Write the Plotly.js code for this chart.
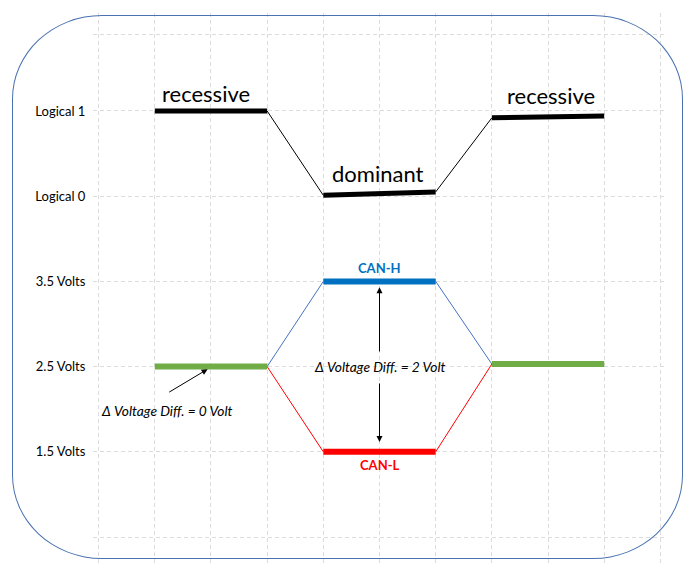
<!DOCTYPE html>
<html>
<head>
<meta charset="utf-8">
<script src="https://cdn.plot.ly/plotly-3.0.1.min.js"></script>
<style>
  html, body { margin: 0; padding: 0; background: #fff; }
  #wrap { position: relative; width: 691px; height: 571px; }
  #chart { width: 691px; height: 571px; }
  #frame { position: absolute; left: 12px; top: 15px; width: 671px; height: 544px;
           border: 1.2px solid #4A72B0; border-radius: 90px / 84px; pointer-events: none; box-sizing: border-box; }
</style>
</head>
<body>
<div id="wrap">
  <div id="chart"></div>
  <div id="frame"></div>
</div>
<script>
// Y-axis tick positions and labels
const yTickVals = [0, 1, 2, 3, 4, 5, 5.9];
const yTickText = ['', '1.5 Volts', '2.5 Volts', '3.5 Volts', 'Logical 0', 'Logical 1', ''];
const xTickVals = [0, 1, 2, 3, 4, 5, 6, 7, 8, 9, 10];

// Logical level (black)
const logicX = [1, 3, 4, 6, 7, 9];
const logicY = [5, 5, 4.01, 4.05, 4.92, 4.94];
// CAN-H (blue)
const canHX = [1, 3, 4, 6, 7, 9];
const canHY = [2, 2, 3, 3, 2.03, 2.03];
// CAN-L (red)
const canLX = [1, 3, 4, 6, 7, 9];
const canLY = [2, 2, 1, 1, 2.03, 2.03];

function seg(xs, ys, i) { return {x: [xs[i], xs[i+1]], y: [ys[i], ys[i+1]]}; }

const traces = [];
function add(s, color, width) {
  traces.push({x: s.x, y: s.y, mode: 'lines', line: {color: color, width: width}, hoverinfo: 'skip', showlegend: false});
}
// thin transitions
add(seg(logicX, logicY, 1), '#000000', 1);
add(seg(logicX, logicY, 3), '#000000', 1);
add(seg(canHX, canHY, 1), '#4472C4', 1);
add(seg(canHX, canHY, 3), '#4472C4', 1);
add(seg(canLX, canLY, 1), '#FF0000', 1);
add(seg(canLX, canLY, 3), '#FF0000', 1);
// thick levels
add(seg(logicX, logicY, 0), '#000000', 5);
add(seg(logicX, logicY, 2), '#000000', 5);
add(seg(logicX, logicY, 4), '#000000', 5);
add(seg(canLX, canLY, 2), '#FF0000', 6);
add(seg(canHX, canHY, 2), '#0070C0', 6);
add(seg(canHX, canHY, 0), '#70AD47', 6);
add(seg(canHX, canHY, 4), '#70AD47', 6);

const F = 'Lato, "Open Sans", sans-serif';
const annotations = [
  {x: 1.92, y: 5.2, text: 'recessive', showarrow: false, font: {family: F, size: 22, color: '#000'}},
  {x: 8.05, y: 5.18, text: 'recessive', showarrow: false, font: {family: F, size: 22, color: '#000'}},
  {x: 4.97, y: 4.27, text: 'dominant', showarrow: false, font: {family: F, size: 22, color: '#000'}},
  {x: 5, y: 3.16, text: '<b>CAN-H</b>', showarrow: false, font: {family: F, size: 13, color: '#0070C0'}},
  {x: 5, y: 0.84, text: '<b>CAN-L</b>', showarrow: false, font: {family: F, size: 13, color: '#FF0000'}},
  {x: 5, y: 2.0, text: '<i>Δ Voltage Diff. = 2 Volt</i>', showarrow: false, font: {family: F, size: 13.8, color: '#000'}},
  {x: 1.21, y: 1.48, text: '<i>Δ Voltage Diff. = 0 Volt</i>', showarrow: false, font: {family: F, size: 13.8, color: '#000'}},
  {x: 5, y: 2.93, ax: 5, ay: 2.16, axref: 'x', ayref: 'y', xref: 'x', yref: 'y', text: '', showarrow: true, arrowhead: 2, arrowsize: 1.2, arrowwidth: 1, arrowcolor: '#000'},
  {x: 5, y: 1.115, ax: 5, ay: 1.82, axref: 'x', ayref: 'y', xref: 'x', yref: 'y', text: '', showarrow: true, arrowhead: 2, arrowsize: 1.2, arrowwidth: 1, arrowcolor: '#000'},
  {x: 1.94, y: 1.97, ax: 1.23, ay: 1.69, axref: 'x', ayref: 'y', xref: 'x', yref: 'y', text: '', showarrow: true, arrowhead: 2, arrowsize: 1.2, arrowwidth: 1, arrowcolor: '#000'}
];

const layout = {
  width: 691, height: 571,
  margin: {l: 93.4, r: 24.6, t: 13, b: 8},
  paper_bgcolor: '#ffffff', plot_bgcolor: '#ffffff',
  xaxis: {range: [-0.1, 10.1], tickvals: xTickVals, showticklabels: false, showgrid: true,
          gridcolor: '#DCDCDC', griddash: '4px,3px', gridwidth: 1, zeroline: false, showline: false, ticks: ''},
  yaxis: {range: [-0.305, 6.15], tickvals: yTickVals, ticktext: yTickText, showgrid: true,
          gridcolor: '#DCDCDC', griddash: '4px,3px', gridwidth: 1, zeroline: false, showline: false,
          ticks: 'outside', ticklen: 4, tickcolor: 'rgba(0,0,0,0)',
          tickfont: {family: F, size: 13, color: '#000'}},
  annotations: annotations,
  showlegend: false
};

Plotly.newPlot('chart', traces, layout, {displayModeBar: false, staticPlot: true});
</script>
</body>
</html>
